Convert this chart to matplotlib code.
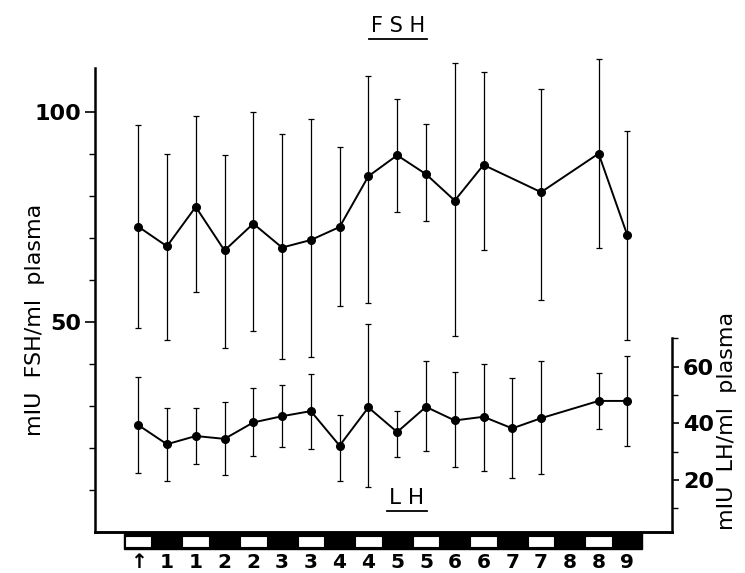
import matplotlib
matplotlib.use("Agg")
import matplotlib.pyplot as plt
import matplotlib.transforms as mtransforms
from matplotlib.patches import Rectangle
from matplotlib.lines import Line2D

plt.rcParams['font.family'] = ['DejaVu Sans']

# Sampling slots (half-day periods); light/dark alternate along the bottom bar
slot_labels = ["\u2191", "1", "1", "2", "2", "3", "3", "4", "4",
               "5", "5", "6", "6", "7", "7", "8", "8", "9"]
slot_light = [True, False] * 9

# FSH (mIU/ml plasma), mean with lower / upper error
fsh_slots = [0, 1, 2, 3, 4, 5, 6, 7, 8, 9, 10, 11, 12, 14, 16, 17]
fsh_mean = [72.8, 68.1, 77.5, 67.1, 73.5, 67.8, 69.6, 72.7, 84.8, 89.8,
            85.3, 79.0, 87.5, 81.0, 90.2, 70.7]
fsh_err_lo = [24.2, 22.3, 20.3, 23.3, 25.7, 26.5, 27.8, 18.9, 30.2, 13.5,
              11.1, 32.2, 20.3, 25.8, 22.6, 24.9]
fsh_err_hi = [24.1, 21.9, 21.6, 22.8, 26.7, 27.0, 28.8, 19.1, 24.0, 13.3,
              12.0, 32.8, 22.2, 24.6, 22.6, 24.9]

# LH (mIU/ml plasma), mean with lower / upper error
lh_slots = [0, 1, 2, 3, 4, 5, 6, 7, 8, 9, 10, 11, 12, 13, 14, 16, 17]
lh_mean = [39.4, 32.6, 35.5, 34.5, 40.3, 42.5, 44.3, 32.1, 45.6, 36.9,
           45.8, 41.0, 42.3, 38.2, 41.8, 47.9, 47.9]
lh_err_lo = [17.0, 13.1, 9.9, 12.7, 11.9, 10.8, 13.4, 12.6, 28.1, 8.7,
             15.6, 16.5, 19.2, 17.6, 19.6, 10.0, 15.9]
lh_err_hi = [16.9, 12.9, 10.0, 13.1, 12.2, 10.9, 13.0, 10.8, 29.6, 7.5,
             16.2, 17.2, 18.8, 17.9, 20.2, 9.9, 15.7]

fig = plt.figure(figsize=(7.45, 5.73), dpi=100)
ax = fig.add_axes([95 / 745, 1 - 532 / 573, (672 - 95) / 745, (532 - 68) / 573])
ax2 = ax.twinx()

ink = "black"


def draw_series(axis, xs, mean, lo, hi):
    eb = axis.errorbar(xs, mean, yerr=[lo, hi], fmt="none", ecolor=ink,
                       elinewidth=0.9, capsize=2.3, capthick=0.9)
    for art in eb.lines[1] + eb.lines[2]:
        art.set_clip_on(False)
    axis.plot(xs, mean, color=ink, lw=1.4, marker="o", ms=5.5, clip_on=False)


draw_series(ax, fsh_slots, fsh_mean, fsh_err_lo, fsh_err_hi)   # left scale
draw_series(ax2, lh_slots, lh_mean, lh_err_lo, lh_err_hi)      # right scale

ax.set_xlim(-1.5, 18.55)
ax.set_ylim(0, 110.6)
ax2.set_ylim(1.6, 165.5)

# Spines
for a in (ax, ax2):
    a.spines["top"].set_visible(False)
    a.spines["bottom"].set_linewidth(1.8)
ax.spines["left"].set_linewidth(1.8)
ax.spines["right"].set_visible(False)
ax2.spines["left"].set_visible(False)
ax2.spines["right"].set_linewidth(1.8)
ax2.spines["right"].set_bounds(1.6, 70)

# Ticks
ax.set_xticks([])
ax.set_yticks([50, 100])
ax.set_yticks([10, 20, 30, 40, 60, 70, 80, 90], minor=True)
ax.tick_params(axis="y", which="major", length=7, width=1.2, labelsize=16, pad=3)
ax.tick_params(axis="y", which="minor", length=4, width=1.0)
for t in ax.get_yticklabels():
    t.set_fontweight("bold")

ax2.set_yticks([20, 40, 60])
ax2.set_yticks([10, 30, 50, 70], minor=True)
ax2.tick_params(axis="y", which="major", length=5, width=1.2, labelsize=16, pad=3)
ax2.tick_params(axis="y", which="minor", length=4, width=1.0)
for t in ax2.get_yticklabels():
    t.set_fontweight("bold")

# Light/dark bar along the time axis
bar_tr = mtransforms.blended_transform_factory(ax.transData, ax.transAxes)
px = 1 / (532 - 68)  # one pixel in axes-height units
bar_top = -1 * px
bar_h = 16 * px
n = len(slot_labels)
ax.add_patch(Rectangle((-0.5, bar_top - bar_h), n, bar_h, transform=bar_tr,
                       facecolor=ink, edgecolor=ink, lw=1.0, clip_on=False))
for i, light in enumerate(slot_light):
    if light:
        ax.add_patch(Rectangle((i - 0.46, bar_top - bar_h + 2.5 * px), 0.92,
                               bar_h - 5 * px, transform=bar_tr,
                               facecolor="white", edgecolor=ink, lw=0.8,
                               clip_on=False))
for i, lab in enumerate(slot_labels):
    ax.text(i, -31 * px, lab, transform=bar_tr, ha="center",
            va="center", fontsize=14.5, fontweight="bold", color=ink)

# Axis titles
fig.text(35 / 745, 1 - 320 / 573, "mIU  FSH/ml  plasma", rotation=90,
         ha="center", va="center", fontsize=16, color=ink)
fig.text(727 / 745, 1 - 421 / 573, "mIU  LH/ml  plasma", rotation=90,
         ha="center", va="center", fontsize=16, color=ink)

# Underlined series names
t_fsh = fig.text(398 / 745, 1 - 26 / 573, "F S H", ha="center", va="center",
                 fontsize=15, color=ink)
t_lh = fig.text(407 / 745, 1 - 498 / 573, "L H", ha="center", va="center",
                fontsize=15.5, color=ink)
fig.canvas.draw()
renderer = fig.canvas.get_renderer()
for t in (t_fsh, t_lh):
    bb = t.get_window_extent(renderer).transformed(fig.transFigure.inverted())
    y = bb.y0 - 3 / 573
    fig.add_artist(Line2D([bb.x0 - 2 / 745, bb.x1 + 2 / 745], [y, y],
                          transform=fig.transFigure, color=ink, lw=1.3))

fig.savefig("out.png", dpi=100)
